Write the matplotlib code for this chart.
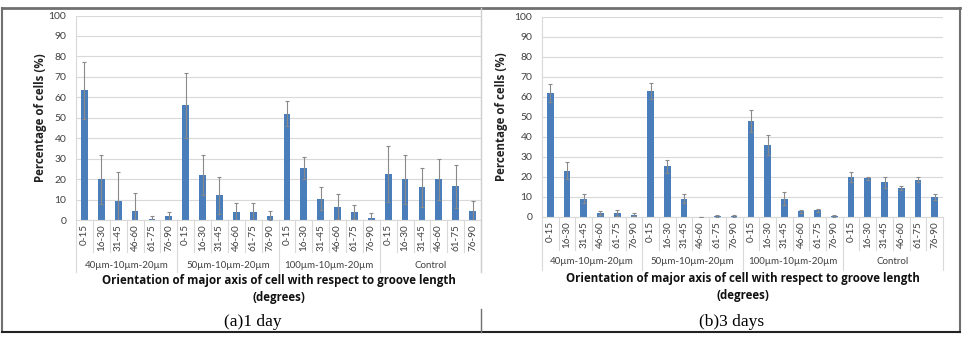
import numpy as np
import matplotlib
matplotlib.use("Agg")
import matplotlib.pyplot as plt
from matplotlib.lines import Line2D
from matplotlib.transforms import blended_transform_factory

plt.rcParams['font.family'] = ['Lato', 'DejaVu Sans']

# data
bins = ["0-15", "16-30", "31-45", "46-60", "61-75", "76-90"]
groups = ["40µm-10µm-20µm", "50µm-10µm-20µm", "100µm-10µm-20µm", "Control"]

day1_mean = [63.5, 20, 9.3, 4.5, 0.5, 1.8,
             56, 22, 12, 4, 4, 2,
             52, 25.5, 10.5, 6.5, 4, 1.2,
             22.5, 20, 16, 20, 16.5, 4.5]
day1_err = [14, 12, 14.2, 8.5, 1.5, 2.2,
            16, 10, 9, 4.5, 4.5, 2.2,
            6, 5.5, 5.5, 6, 3.5, 2,
            13.5, 12, 9.5, 10, 10.5, 5]

day3_mean = [62, 23.2, 9.2, 2, 2, 1.2,
             62.8, 25.3, 9.2, 0, 0.5, 0.5,
             48, 36, 9.2, 2.8, 3.3, 0.5,
             20, 19.3, 17.3, 14.6, 18.7, 10]
day3_err = [4.5, 4.1, 2.3, 1, 1.3, 0.8,
            4, 3.2, 2.3, 0, 0.5, 0.7,
            5.5, 5, 3.3, 0.9, 0.7, 0.7,
            2.7, 0.7, 2.7, 0.9, 1.3, 1.5]

BAR = "#4a7ebb"
GRID = "#d9d9d9"
TXT = "#404040"
BOLD = ['Open Sans', 'DejaVu Sans']

fig = plt.figure(figsize=(9.63, 3.38), dpi=100)
W, H = 963, 338


def fx(px):
    return px / W


def fy(py):
    return 1 - py / H


def panel(rect, mean, err, sep_small, sep_group, grp_y, ylab_x, xlab_title):
    ax = fig.add_axes(rect)
    n = len(mean)
    x = np.arange(n)
    ax.bar(x, mean, width=0.4, color=BAR, zorder=2)
    ax.errorbar(x, mean, yerr=err, fmt="none", ecolor="#8a8a8a",
                elinewidth=0.8, capsize=1.2, capthick=0.8, zorder=3)
    ax.set_xlim(-0.5, n - 0.5)
    ax.set_ylim(0, 100)
    ax.set_yticks(range(0, 101, 10))
    ax.yaxis.grid(True, color=GRID, lw=0.8, zorder=0)
    for s in ["top", "right"]:
        ax.spines[s].set_visible(False)
    ax.spines["left"].set_color(GRID)
    ax.spines["bottom"].set_color(GRID)
    ax.tick_params(axis="y", length=0, pad=7, labelsize=7.5, labelcolor=TXT)
    ax.set_xticks(x)
    ax.set_xticklabels(bins * len(groups), rotation=90, fontsize=7.2, color=TXT)
    ax.tick_params(axis="x", length=0, pad=3)
    ax.set_ylabel("Percentage of cells (%)", fontsize=8.3, fontweight="bold",
                  color="#222222", family=BOLD)
    ax.yaxis.set_label_coords(ylab_x, 0.5)

    tr = blended_transform_factory(ax.transData, ax.transAxes)
    for i in range(n + 1):
        low = sep_group if i % 6 == 0 else sep_small
        ax.add_line(Line2D([i - 0.5, i - 0.5], [0, low], transform=tr,
                           color=GRID, lw=0.8, clip_on=False))
    for g, name in enumerate(groups):
        ax.text(g * 6 + 2.5, grp_y, name, transform=tr, ha="center", va="center",
                fontsize=7.0, color=TXT)
    ax.text(0.5, xlab_title, "Orientation of major axis of cell with respect to groove length\n(degrees)",
            transform=ax.transAxes, ha="center", va="top", fontsize=8.3,
            fontweight="bold", color="#111111", linespacing=1.4, family=BOLD)
    return ax


# left panel (1 day)
lh = 220 - 15.5
panel([fx(76), fy(220), fx(405), lh / H], day1_mean, day1_err,
      -32 / lh, -52 / lh, -45 / lh, -(76 - 47) / 405, -(274 - 220) / lh)

# right panel (3 days)
rh = 217 - 17
panel([fx(542), fy(217), fx(401), rh / H], day3_mean, day3_err,
      -33 / rh, -53 / rh, -45 / rh, -(542 - 508) / 401, -(272 - 217) / rh)

# the table frame round the two figures
frame = [([2, 960], [8, 8], "#707070", 2.0),
         ([2, 2], [8, 332], "#707070", 1.5),
         ([960, 960], [8, 332], "#707070", 1.5),
         ([2, 960], [332, 332], "#222222", 1.5),
         ([481, 481], [8, 272], "#cfcfcf", 1.0),
         ([481, 481], [309, 332], "#707070", 1.0)]
for xs, ys, c, lw in frame:
    fig.add_artist(Line2D([fx(v) for v in xs], [fy(v) for v in ys], color=c, lw=lw))

fig.text(fx(253), fy(322), "(a)1 day", ha="center", va="center",
         fontsize=12.5, family="Liberation Serif")
fig.text(fx(732), fy(322), "(b)3 days", ha="center", va="center",
         fontsize=12.5, family="Liberation Serif")

fig.savefig("out.png", dpi=100, facecolor="white")
